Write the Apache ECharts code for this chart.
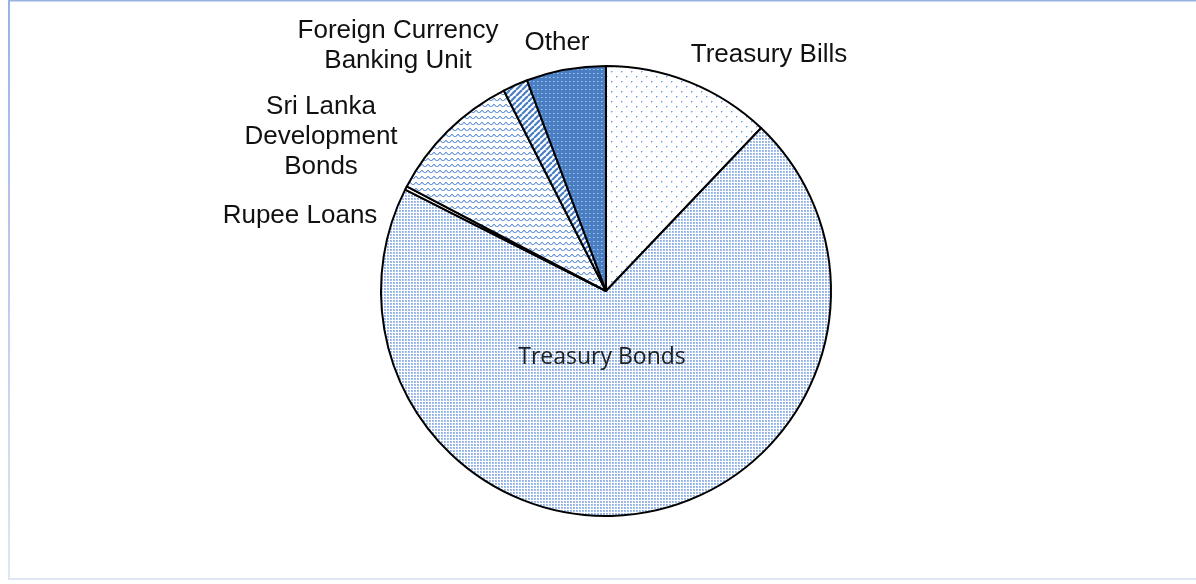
<!DOCTYPE html>
<html>
<head>
<meta charset="utf-8">
<script src="https://cdn.jsdelivr.net/npm/echarts@6/dist/echarts.min.js"></script>
<style>
html,body{margin:0;padding:0;background:#fff;}
#chart{width:1196px;height:584px;}
</style>
</head>
<body>
<div id="chart"></div>
<script>
// ---- data ----
const categories = ['Treasury Bills', 'Treasury Bonds', 'Rupee Loans', 'Sri Lanka\nDevelopment\nBonds', 'Foreign Currency\nBanking Unit', 'Other'];
const shares = [12.1, 70.3, 0.25, 9.8, 1.8, 5.7];

// ---- label placement (text centres) ----
const labelPos = [[769, 55], [602, 357], [300, 216], [321, 137], [398, 46], [557, 43]];

// ---- fill patterns ----
function tile(w, h, draw) {
  const c = document.createElement('canvas');
  c.width = w; c.height = h;
  const g = c.getContext('2d');
  draw(g);
  return { image: c, repeat: 'repeat' };
}
const patBills = tile(10, 10, g => {
  g.fillStyle = '#fff'; g.fillRect(0, 0, 10, 10);
  g.fillStyle = '#6f9bdb'; g.fillRect(1, 1, 1, 1); g.fillRect(6, 6, 1, 1);
  g.fillStyle = '#b9cff0'; g.fillRect(2, 1, 1, 1); g.fillRect(7, 6, 1, 1); g.fillRect(1, 2, 1, 1); g.fillRect(6, 7, 1, 1);
});
const patBonds = tile(3, 3, g => {
  g.fillStyle = '#fff'; g.fillRect(0, 0, 3, 3);
  g.fillStyle = '#a4bfe9'; g.fillRect(0, 0, 2, 2);
  g.fillStyle = '#86abe2'; g.fillRect(0, 0, 1, 1);
});
const patRupee = '#ffffff';
const patSLDB = tile(6, 6, g => {
  g.fillStyle = '#fff'; g.fillRect(0, 0, 6, 6);
  g.fillStyle = '#6f9bd8';
  [[0, 3], [1, 2], [2, 2], [3, 3], [4, 4], [5, 4]].forEach(p => g.fillRect(p[0], p[1], 1, 1));
  g.fillStyle = '#b7cdef';
  [[0, 4], [3, 4], [1, 3], [2, 3]].forEach(p => g.fillRect(p[0], p[1], 1, 1));
});
const patFCBU = tile(6, 6, g => {
  g.fillStyle = '#fff'; g.fillRect(0, 0, 6, 6);
  g.strokeStyle = '#4a7ec4'; g.lineWidth = 2.2;
  for (let k = -6; k <= 12; k += 6) {
    g.beginPath(); g.moveTo(k, 6); g.lineTo(k + 6, 0); g.stroke();
  }
});
const patOther = tile(4, 4, g => {
  g.fillStyle = '#4a7ec2'; g.fillRect(0, 0, 4, 4);
  g.fillStyle = '#a9c4ec'; g.fillRect(1, 1, 1, 1);
  g.fillStyle = '#7aa0d6'; g.fillRect(2, 1, 1, 1);
});
const fills = [patBills, patBonds, patRupee, patSLDB, patFCBU, patOther];

const chart = echarts.init(document.getElementById('chart'), null, { renderer: 'canvas' });
chart.setOption({
  backgroundColor: '#ffffff',
  animation: false,
  graphic: [{
    type: 'rect',
    shape: { x: 9, y: 0.5, width: 1200, height: 578.5 },
    style: {
      fill: 'none',
      lineWidth: 2,
      stroke: new echarts.graphic.LinearGradient(0, 0, 0, 1, [
        { offset: 0, color: '#98b2e4' },
        { offset: 1, color: '#dfe7f6' }
      ])
    },
    silent: true
  }],
  series: [{
    type: 'pie',
    center: [606, 291],
    radius: [0, 225],
    startAngle: 90,
    clockwise: true,
    minAngle: 0,
    avoidLabelOverlap: false,
    data: categories.map((name, i) => ({
      name: name,
      value: shares[i],
      itemStyle: { color: fills[i] },
      label: i === 1 ? {
        fontFamily: 'Open Sans, sans-serif', fontSize: 23, color: '#222'
      } : {}
    })),
    itemStyle: { borderColor: '#000', borderWidth: 2 },
    label: {
      show: true,
      position: 'outside',
      fontFamily: 'Liberation Sans, Arial, sans-serif',
      fontSize: 26,
      lineHeight: 30,
      color: '#111',
      align: 'center'
    },
    labelLine: { show: false },
    labelLayout: function (p) {
      const pos = labelPos[p.dataIndex];
      return { x: pos[0], y: pos[1], align: 'center', verticalAlign: 'middle', hideOverlap: false, moveOverlap: false };
    },
    emphasis: { disabled: true }
  }]
});
</script>
</body>
</html>
